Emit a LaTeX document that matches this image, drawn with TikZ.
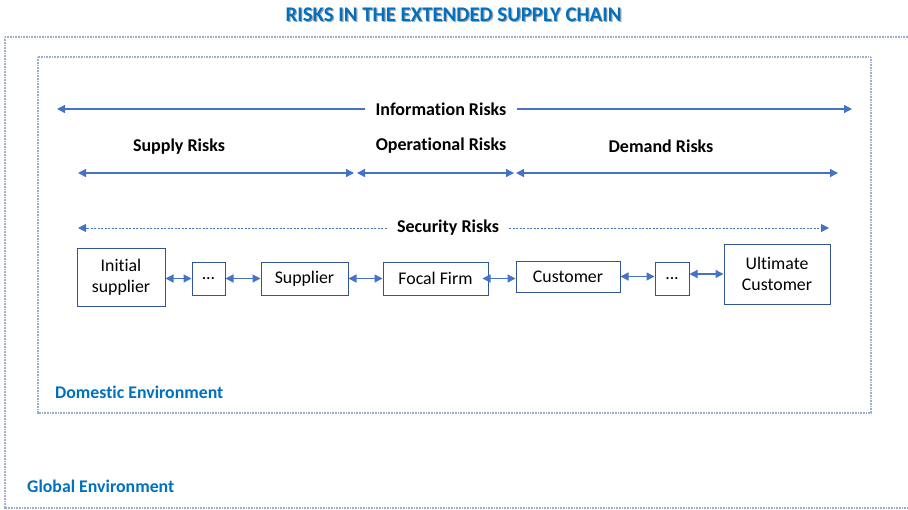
\documentclass[tikz,border=0pt]{standalone}
\usepackage{fontspec}
\setmainfont{Carlito}[Ligatures=NoCommon]
\newfontfamily\titlefont{Carlito}[Ligatures=NoCommon]
\usetikzlibrary{arrows.meta}
\definecolor{arrowblue}{HTML}{4472C4}
\definecolor{boxblue}{HTML}{2F5597}
\definecolor{textblue}{HTML}{0070C0}
\definecolor{dotgray}{HTML}{9DAECB}
\tikzset{
  envbox/.style={draw=dotgray, line width=1.1pt, dash pattern=on 0.9pt off 0.7pt},
  chainbox/.style={draw=boxblue, line width=1pt, fill=white, font=\fontsize{17.8}{21}\selectfont, align=center, inner sep=0pt},
  risklabel/.style={font=\fontsize{18}{21}\selectfont\bfseries, inner sep=10pt},
  envlabel/.style={font=\fontsize{17.8}{21}\selectfont\bfseries, text=textblue, inner sep=0pt},
  riskarrow/.style={draw=arrowblue, line width=1.3pt, -{Triangle[length=8pt,width=8pt]}},
  riskarrows/.style={draw=arrowblue, line width=1.3pt, {Triangle[length=8pt,width=8pt]}-{Triangle[length=8pt,width=8pt]}},
  secarrow/.style={draw=arrowblue, line width=1pt, dash pattern=on 2pt off 1.5pt, -{Triangle[length=8pt,width=8pt]}},
}
\begin{document}
\begin{tikzpicture}[x=1pt,y=-1pt]
\useasboundingbox (0,0) rectangle (908,509);
% title
\node[font=\titlefont\fontsize{20.8}{23}\selectfont\bfseries, text=black!35, inner sep=0pt] (titleshadow) at (454.7,15.7) {RISKS IN THE EXTENDED SUPPLY CHAIN};
\node[font=\titlefont\fontsize{20.8}{23}\selectfont\bfseries, text=textblue, inner sep=0pt] (title) at (453.5,14.5) {RISKS IN THE EXTENDED SUPPLY CHAIN};
% environments
\draw[envbox] (5,37) rectangle (916,508);
\draw[envbox] (38,57) rectangle (871,413);
\node[envlabel, anchor=west] (dom) at (55,392) {Domestic Environment};
\node[envlabel, anchor=west] (glob) at (27,486) {Global Environment};
% information risks
\coordinate (infoL) at (57,109);
\coordinate (infoR) at (852,109);
\node[risklabel] (info) at (441,109) {Information Risks};
\draw[riskarrow] (info.west) -- (infoL);
\draw[riskarrow] (info.east) -- (infoR);
% supply / operational / demand
\node[risklabel, inner sep=0pt] (supply) at (179,147) {Supply Risks};
\node[risklabel, inner sep=0pt] (oper) at (441,146) {Operational Risks};
\node[risklabel, inner sep=0pt] (demand) at (661,146) {Demand Risks};
\coordinate (s1) at (78,173);
\coordinate (s2) at (354,173);
\coordinate (s3) at (357,173);
\coordinate (s4) at (514,173);
\coordinate (s5) at (516,173);
\coordinate (s6) at (838,173);
\draw[riskarrows] (s1) -- (s2);
\draw[riskarrows] (s3) -- (s4);
\draw[riskarrows] (s5) -- (s6);
% security risks
\coordinate (secL) at (78,228);
\coordinate (secR) at (829,228);
\node[risklabel] (sec) at (448,228) {Security Risks};
\draw[secarrow] (sec.west) -- (secL);
\draw[secarrow] (sec.east) -- (secR);
% chain
\node[chainbox, minimum width=88pt, minimum height=58pt] (init) at (121,277) {Initial\\supplier};
\node[chainbox, minimum width=33pt, minimum height=33pt] (dots1) at (208.5,278.5) {...};
\node[chainbox, minimum width=87pt, minimum height=33pt] (supp) at (304.5,278.5) {Supplier};
\node[chainbox, minimum width=105pt, minimum height=33pt] (focal) at (435.5,278.5) {Focal Firm};
\node[chainbox, minimum width=104pt, minimum height=31pt] (cust) at (568,276.5) {Customer};
\node[chainbox, minimum width=34pt, minimum height=33pt] (dots2) at (672,278.5) {...};
\node[chainbox, minimum width=106pt, minimum height=60pt] (ult) at (777,274) {Ultimate\\Customer};
\draw[riskarrows] (init.east |- dots1) -- (dots1.west);
\draw[riskarrows] (dots1.east) -- (supp.west);
\draw[riskarrows] (supp.east) -- (focal.west);
\draw[riskarrows] ([xshift=-6pt]focal.east) -- (focal.east -| cust.west);
\draw[riskarrows] (cust.east) -- (cust.east -| dots2.west);
\draw[riskarrows] (dots2.east |- ult) -- (ult.west);
\end{tikzpicture}
\end{document}
